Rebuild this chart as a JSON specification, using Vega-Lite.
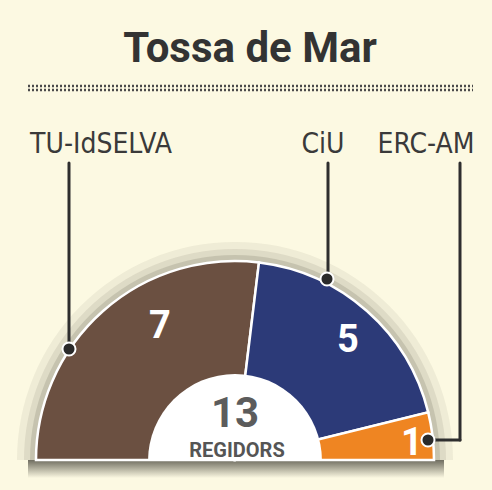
{
  "$schema": "https://vega.github.io/schema/vega-lite/v6.json",
  "width": 492,
  "height": 490,
  "autosize": {"type": "fit", "contains": "padding"},
  "padding": 0,
  "background": "#fcf9e2",
  "config": {"view": {"stroke": null}},
  "data": {"values": [
    {"party": "TU-IdSELVA", "seats": 7, "ord": 1},
    {"party": "CiU", "seats": 5, "ord": 2},
    {"party": "ERC-AM", "seats": 1, "ord": 3}
  ]},
  "layer": [
    {
      "data": {"values": [{"title": "Tossa de Mar"}]},
      "mark": {"type": "text", "font": "Roboto", "fontWeight": "bold", "fontSize": 42, "color": "#333333", "baseline": "alphabetic", "align": "center"},
      "encoding": {
        "text": {"field": "title"},
        "x": {"datum": 250, "type": "quantitative", "scale": {"domain": [0, 492], "nice": false, "zero": false}, "axis": null},
        "y": {"datum": 62, "type": "quantitative", "scale": {"domain": [0, 490], "nice": false, "zero": false, "reverse": true}, "axis": null}
      }
    },
    {
      "data": {"values": [{}]},
      "mark": {"type": "rule", "strokeDash": [2, 2], "strokeWidth": 2.5, "color": "#4a4a4a"},
      "encoding": {"x": {"datum": 28, "type": "quantitative"}, "x2": {"datum": 473}, "y": {"datum": 86, "type": "quantitative"}}
    },
    {
      "data": {"values": [{}]},
      "mark": {"type": "rule", "strokeDash": [2, 2], "strokeWidth": 2.5, "color": "#4a4a4a"},
      "encoding": {"x": {"datum": 28, "type": "quantitative"}, "x2": {"datum": 473}, "y": {"datum": 90, "type": "quantitative"}}
    },
    {
      "transform": [{"filter": "datum.party == 'TU-IdSELVA'"}],
      "mark": {"type": "text", "font": "DejaVu Sans Condensed, Roboto, sans-serif", "fontSize": 28, "color": "#3a3a3a", "baseline": "alphabetic", "align": "center"},
      "encoding": {"text": {"field": "party"}, "x": {"datum": 101, "type": "quantitative"}, "y": {"datum": 153, "type": "quantitative"}}
    },
    {
      "transform": [{"filter": "datum.party == 'CiU'"}],
      "mark": {"type": "text", "font": "DejaVu Sans Condensed, Roboto, sans-serif", "fontSize": 28, "color": "#3a3a3a", "baseline": "alphabetic", "align": "center"},
      "encoding": {"text": {"field": "party"}, "x": {"datum": 323, "type": "quantitative"}, "y": {"datum": 153, "type": "quantitative"}}
    },
    {
      "transform": [{"filter": "datum.party == 'ERC-AM'"}],
      "mark": {"type": "text", "font": "DejaVu Sans Condensed, Roboto, sans-serif", "fontSize": 28, "color": "#3a3a3a", "baseline": "alphabetic", "align": "center"},
      "encoding": {"text": {"field": "party"}, "x": {"datum": 426, "type": "quantitative"}, "y": {"datum": 153, "type": "quantitative"}}
    },
    {
      "data": {"values": [{}]},
      "mark": {"type": "arc", "radius": 218, "radius2": 199, "color": "#4a4838", "opacity": 0.07},
      "encoding": {"x": {"datum": 235, "type": "quantitative"}, "y": {"datum": 460, "type": "quantitative"}, "theta": {"datum": 0, "type": "quantitative", "scale": {"domain": [0, 13], "range": [-1.5708, 1.5708]}}, "theta2": {"datum": 13}}
    },
    {
      "data": {"values": [{}]},
      "mark": {"type": "arc", "radius": 211, "radius2": 199, "color": "#4a4838", "opacity": 0.1},
      "encoding": {"x": {"datum": 235, "type": "quantitative"}, "y": {"datum": 460, "type": "quantitative"}, "theta": {"datum": 0, "type": "quantitative"}, "theta2": {"datum": 13}}
    },
    {
      "data": {"values": [{}]},
      "mark": {"type": "arc", "radius": 205, "radius2": 199, "color": "#4a4838", "opacity": 0.16},
      "encoding": {"x": {"datum": 235, "type": "quantitative"}, "y": {"datum": 460, "type": "quantitative"}, "theta": {"datum": 0, "type": "quantitative"}, "theta2": {"datum": 13}}
    },
    {
      "data": {"values": [{}]},
      "mark": {"type": "rect", "color": {"gradient": "linear", "x1": 0, "y1": 0, "x2": 0, "y2": 1, "stops": [{"offset": 0, "color": "#6f6d60"}, {"offset": 1, "color": "#fcf9e2"}]}},
      "encoding": {"x": {"datum": 28, "type": "quantitative"}, "x2": {"datum": 444}, "y": {"datum": 460, "type": "quantitative"}, "y2": {"datum": 478}}
    },
    {
      "transform": [{"stack": "seats", "groupby": [], "sort": [{"field": "ord", "order": "ascending"}], "as": ["s0", "s1"]}],
      "mark": {"type": "arc", "radius": 199, "stroke": "white", "strokeWidth": 2.5},
      "encoding": {
        "x": {"datum": 235, "type": "quantitative"},
        "y": {"datum": 460, "type": "quantitative"},
        "theta": {"field": "s0", "type": "quantitative"},
        "theta2": {"field": "s1"},
        "color": {"field": "party", "type": "nominal", "legend": null, "scale": {"domain": ["TU-IdSELVA", "CiU", "ERC-AM"], "range": ["#6b5041", "#2c3a78", "#ef8522"]}}
      }
    },
    {
      "data": {"values": [{}]},
      "mark": {"type": "arc", "radius": 87, "color": "#ffffff"},
      "encoding": {"x": {"datum": 235, "type": "quantitative"}, "y": {"datum": 461, "type": "quantitative"}, "theta": {"datum": 0, "type": "quantitative"}, "theta2": {"datum": 13}}
    },
    {
      "transform": [{"aggregate": [{"op": "sum", "field": "seats", "as": "total"}]}],
      "mark": {"type": "text", "font": "Roboto", "fontWeight": "bold", "fontSize": 42, "color": "#5c5c5c", "baseline": "alphabetic", "align": "center"},
      "encoding": {"text": {"field": "total", "type": "quantitative"}, "x": {"datum": 235, "type": "quantitative"}, "y": {"datum": 427, "type": "quantitative"}}
    },
    {
      "data": {"values": [{"caption": "REGIDORS"}]},
      "mark": {"type": "text", "font": "Roboto", "fontWeight": "bold", "fontSize": 20, "color": "#555555", "baseline": "alphabetic", "align": "center"},
      "encoding": {"text": {"field": "caption"}, "x": {"datum": 237, "type": "quantitative"}, "y": {"datum": 457, "type": "quantitative"}}
    },
    {
      "transform": [{"filter": "datum.party == 'TU-IdSELVA'"}],
      "mark": {"type": "text", "font": "Roboto", "fontWeight": "bold", "fontSize": 38, "color": "#ffffff", "baseline": "alphabetic", "align": "center"},
      "encoding": {"text": {"field": "seats", "type": "quantitative"}, "x": {"datum": 160, "type": "quantitative"}, "y": {"datum": 338, "type": "quantitative"}}
    },
    {
      "transform": [{"filter": "datum.party == 'CiU'"}],
      "mark": {"type": "text", "font": "Roboto", "fontWeight": "bold", "fontSize": 38, "color": "#ffffff", "baseline": "alphabetic", "align": "center"},
      "encoding": {"text": {"field": "seats", "type": "quantitative"}, "x": {"datum": 348, "type": "quantitative"}, "y": {"datum": 352, "type": "quantitative"}}
    },
    {
      "transform": [{"filter": "datum.party == 'ERC-AM'"}],
      "mark": {"type": "text", "font": "Roboto", "fontWeight": "bold", "fontSize": 38, "color": "#ffffff", "baseline": "alphabetic", "align": "center"},
      "encoding": {"text": {"field": "seats", "type": "quantitative"}, "x": {"datum": 412, "type": "quantitative"}, "y": {"datum": 455, "type": "quantitative"}}
    },
    {
      "data": {"values": [{}]},
      "mark": {"type": "rule", "strokeWidth": 3, "color": "#2e2e2e", "strokeCap": "round"},
      "encoding": {"x": {"datum": 69, "type": "quantitative"}, "y": {"datum": 163, "type": "quantitative"}, "y2": {"datum": 349}}
    },
    {
      "data": {"values": [{}]},
      "mark": {"type": "rule", "strokeWidth": 3, "color": "#2e2e2e", "strokeCap": "round"},
      "encoding": {"x": {"datum": 328, "type": "quantitative"}, "y": {"datum": 163, "type": "quantitative"}, "y2": {"datum": 279}}
    },
    {
      "data": {"values": [{}]},
      "mark": {"type": "rule", "strokeWidth": 3, "color": "#2e2e2e", "strokeCap": "round"},
      "encoding": {"x": {"datum": 460, "type": "quantitative"}, "y": {"datum": 163, "type": "quantitative"}, "y2": {"datum": 440}}
    },
    {
      "data": {"values": [{}]},
      "mark": {"type": "rule", "strokeWidth": 3, "color": "#2e2e2e", "strokeCap": "round"},
      "encoding": {"x": {"datum": 428, "type": "quantitative"}, "x2": {"datum": 460}, "y": {"datum": 440, "type": "quantitative"}}
    },
    {
      "data": {"values": [{}]},
      "mark": {"type": "point", "filled": true, "size": 170, "color": "#2a2a2a", "stroke": "#ffffff", "strokeWidth": 2, "opacity": 1},
      "encoding": {"x": {"datum": 69, "type": "quantitative"}, "y": {"datum": 349, "type": "quantitative"}}
    },
    {
      "data": {"values": [{}]},
      "mark": {"type": "point", "filled": true, "size": 170, "color": "#2a2a2a", "stroke": "#ffffff", "strokeWidth": 2, "opacity": 1},
      "encoding": {"x": {"datum": 327, "type": "quantitative"}, "y": {"datum": 279, "type": "quantitative"}}
    },
    {
      "data": {"values": [{}]},
      "mark": {"type": "point", "filled": true, "size": 170, "color": "#2a2a2a", "stroke": "#ffffff", "strokeWidth": 2, "opacity": 1},
      "encoding": {"x": {"datum": 428, "type": "quantitative"}, "y": {"datum": 440, "type": "quantitative"}}
    }
  ]
}
